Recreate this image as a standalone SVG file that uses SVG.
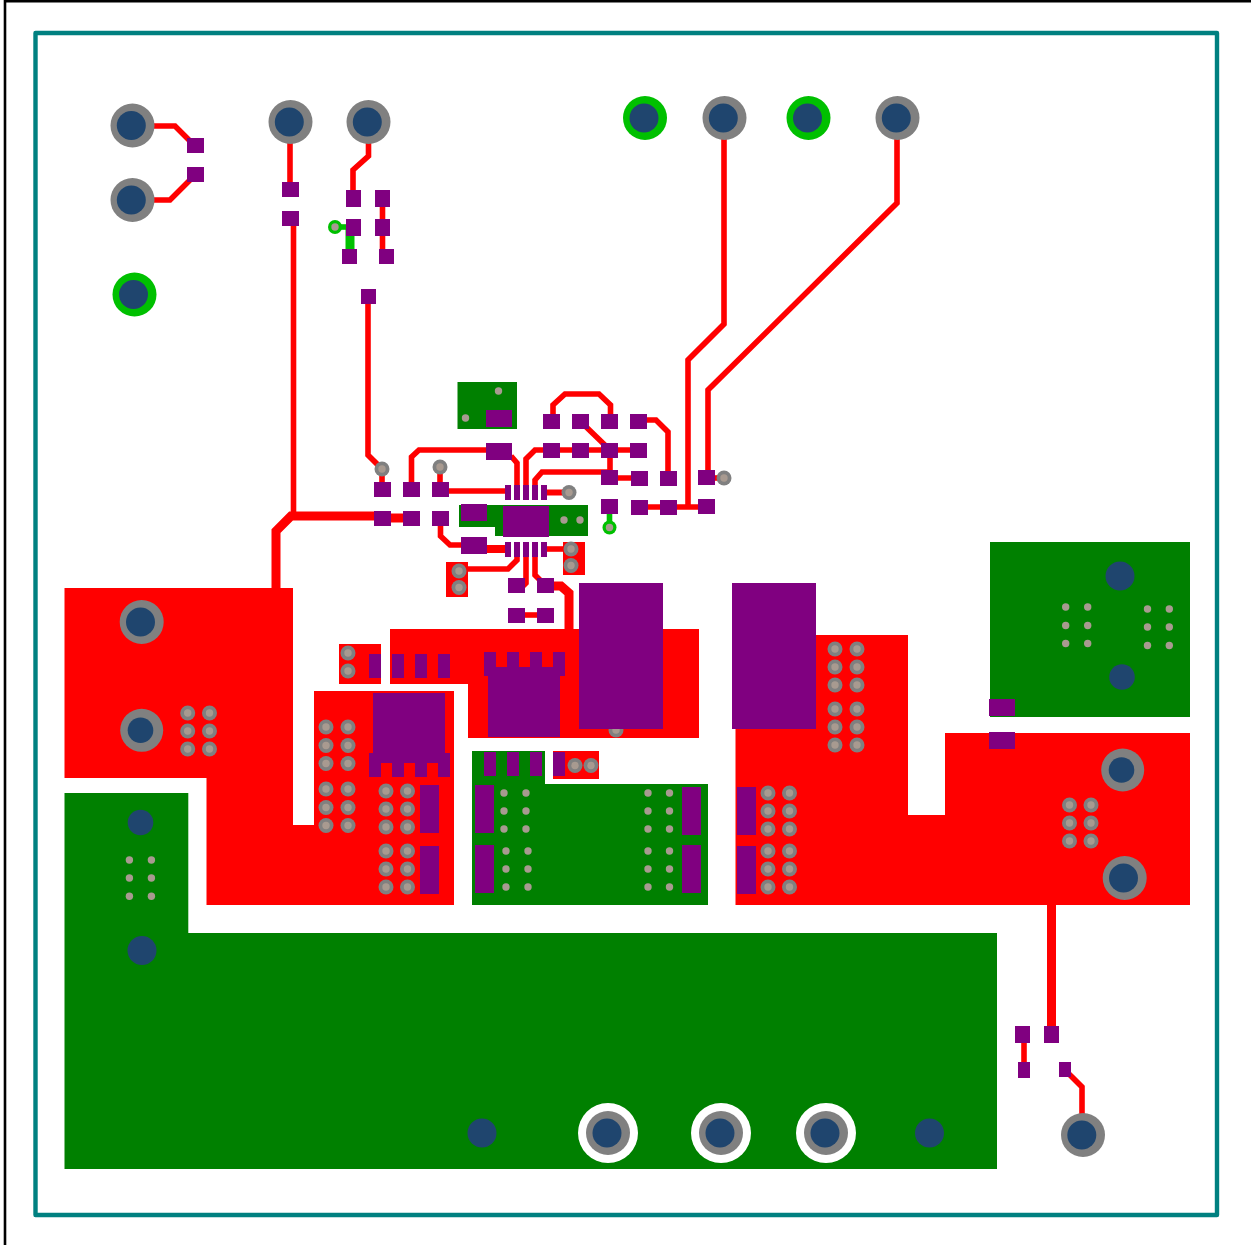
<svg xmlns="http://www.w3.org/2000/svg" width="1251" height="1245" viewBox="0 0 1251 1245">
<style>
.g{fill:#008000}.r{fill:#ff0000}.p{fill:#800080}
.t{fill:none;stroke:#ff0000;stroke-width:5.6}.t9{fill:none;stroke:#ff0000;stroke-width:9}.tg{fill:none;stroke:#00c000;stroke-width:5.6}
.rv{fill:#808080}.h{fill:#a89a90}.b{fill:#1f456e}
</style>
<defs>
<g id="via"><circle r="7.5" class="rv"/><circle r="3.7" class="h"/></g>
<g id="gv"><circle r="3.7" class="h"/></g>
<g id="mh"><circle r="22" class="rv"/><circle cx="-1.200" r="14.500" class="b"/></g>
<g id="mhs"><circle r="21.500" class="rv"/><circle cx="-1.200" r="12.800" class="b"/></g>
<g id="mhg"><circle r="22" fill="#00c000"/><circle cx="-1" r="14.500" class="b"/></g>
<g id="mhw"><circle r="30" fill="#fff"/><circle r="22" class="rv"/><circle cx="-1" r="14.500" class="b"/></g>
<rect id="s" width="17" height="15" class="p"/>
<rect id="s2" width="15" height="17" class="p"/>
<rect id="n" width="12" height="24" class="p"/>
<rect id="w" width="26" height="17" class="p"/>
<rect id="tall" width="19" height="48" class="p"/>
<rect id="pin" width="6" height="15" class="p"/>
</defs>
<rect width="1251" height="1245" fill="#fff"/>
<path d="M5 1245V1.300H1251" fill="none" stroke="#000" stroke-width="2.600"/>
<rect x="35.500" y="33" width="1181.500" height="1182" fill="none" stroke="#008080" stroke-width="4.400" stroke-linejoin="round"/>

<g id="pours-bottom">
<path class="g" d="M64.500 793H188.300V933H997V1169H64.500Z"/>
<rect class="g" x="990" y="542" width="200" height="175"/>
<path class="g" d="M472 751H545V784H708V905H472Z"/>
<rect class="g" x="457.500" y="382" width="59.500" height="47"/>
<path class="g" d="M459 505H588V536H495V527H459Z"/>
</g>
<g id="pours-top">
<path class="r" d="M64.500 588H293V825H314V691H454V905H206.500V778H64.500Z"/>
<path class="r" d="M390 629H699V738H468V684H390Z"/>
<rect class="r" x="339" y="644" width="42" height="40"/>
<rect class="r" x="553" y="751" width="46" height="28"/>
<path class="r" d="M735.500 635H908V815H945V733H1190V905H735.500Z"/>
<rect class="r" x="446" y="562" width="22" height="35"/>
<rect class="r" x="563" y="542" width="22" height="33"/>
</g>

<g id="connectors">
<path class="t" d="M132 126H175L195 146"/>
<path class="t" d="M132 200H170L195 175"/>
<path class="t" d="M290 122V190"/>
<path class="t" d="M293.500 218V516"/>
<path class="t9" d="M276 588V531L291 516H382"/>
<path class="t9" d="M382 518H411"/>
<path class="t" d="M368.500 122V156L353 170V200"/>
<path class="t" d="M382.500 200V256"/>
<path class="tg" d="M335 227H350"/>
<path class="tg" style="stroke-width:9" d="M350 227V256"/>
<path class="t" d="M368 296V455L382 469V490"/>
<path class="t" d="M411.500 490V457L419 450H500M511 456L517 463V490"/>
<path class="t" d="M440 467V491H510"/>
<path class="t" d="M526 490V459L535 450H640"/>
<path class="t" d="M535 490V480L542 472H610"/>
<path class="t" d="M610 450V478H640"/>
<path class="t" d="M580 421L610 450"/>
<path class="t" d="M553 421V405L565 394H599L610.500 405V421"/>
<path class="t" d="M640 420H656L668 432V478"/>
<path class="t" d="M724 118V324L688 360V507"/>
<path class="t" d="M897 118V203L708 390V478"/>
<path class="t" d="M640 507H707"/>
<path class="t" d="M707 478H724"/>
<path class="t" style="stroke-width:6" d="M547 492.500H569"/>
<path class="tg" d="M609.500 514V527"/>
<path class="t" d="M440.500 526V536L450 545H461"/>
<path class="t9" style="stroke-width:8" d="M487 549H505"/>
<path class="t" d="M547 549H563"/>
<path class="t" d="M517 557V560L508 569H459"/>
<path class="t" d="M526 557V583L521 588"/>
<path class="t" d="M535 557V575L545 585"/>
<path class="t9" d="M545 586H561L569 593V630"/>
<path class="t" d="M516 615H545"/>
<path class="t9" d="M1051.500 905V1035"/>
<path class="t" d="M1024 1035V1070"/>
<path class="t" d="M1065 1070L1082 1087V1134"/>
</g>

<g id="vias">
<use href="#via" x="382" y="469"/><use href="#via" x="440" y="467"/><use href="#via" x="569" y="492.500"/><use href="#via" x="724" y="478"/>
<use href="#via" x="571" y="549"/><use href="#via" x="571" y="565.500"/><use href="#via" x="459" y="571"/><use href="#via" x="459" y="587.500"/>
<use href="#via" x="348" y="653"/><use href="#via" x="348" y="671"/><use href="#via" x="616" y="730"/>
<use href="#via" x="575" y="765.500"/><use href="#via" x="591" y="765.500"/>
<use href="#via" x="187.700" y="713"/><use href="#via" x="209.500" y="713"/><use href="#via" x="187.700" y="731"/><use href="#via" x="209.500" y="731"/><use href="#via" x="187.700" y="749"/><use href="#via" x="209.500" y="749"/>
<use href="#via" x="326" y="727"/><use href="#via" x="348" y="727"/><use href="#via" x="326" y="745.500"/><use href="#via" x="348" y="745.500"/><use href="#via" x="326" y="763.500"/><use href="#via" x="348" y="763.500"/>
<use href="#via" x="326" y="789"/><use href="#via" x="348" y="789"/><use href="#via" x="326" y="807.500"/><use href="#via" x="348" y="807.500"/><use href="#via" x="326" y="825.500"/><use href="#via" x="348" y="825.500"/>
<use href="#via" x="386" y="791"/><use href="#via" x="407.500" y="791"/><use href="#via" x="386" y="809"/><use href="#via" x="407.500" y="809"/><use href="#via" x="386" y="827"/><use href="#via" x="407.500" y="827"/>
<use href="#via" x="386" y="851"/><use href="#via" x="407.500" y="851"/><use href="#via" x="386" y="869"/><use href="#via" x="407.500" y="869"/><use href="#via" x="386" y="887"/><use href="#via" x="407.500" y="887"/>
<use href="#via" x="768" y="793"/><use href="#via" x="789.500" y="793"/><use href="#via" x="768" y="811"/><use href="#via" x="789.500" y="811"/><use href="#via" x="768" y="829"/><use href="#via" x="789.500" y="829"/>
<use href="#via" x="768" y="851"/><use href="#via" x="789.500" y="851"/><use href="#via" x="768" y="869"/><use href="#via" x="789.500" y="869"/><use href="#via" x="768" y="887"/><use href="#via" x="789.500" y="887"/>
<use href="#via" x="835" y="649"/><use href="#via" x="857" y="649"/><use href="#via" x="835" y="667"/><use href="#via" x="857" y="667"/><use href="#via" x="835" y="685"/><use href="#via" x="857" y="685"/>
<use href="#via" x="835" y="709"/><use href="#via" x="857" y="709"/><use href="#via" x="835" y="727"/><use href="#via" x="857" y="727"/><use href="#via" x="835" y="745"/><use href="#via" x="857" y="745"/>
<use href="#via" x="1069.500" y="805"/><use href="#via" x="1091" y="805"/><use href="#via" x="1069.500" y="823"/><use href="#via" x="1091" y="823"/><use href="#via" x="1069.500" y="841"/><use href="#via" x="1091" y="841"/>
<circle cx="335" cy="227" r="7" fill="#00c000"/><use href="#gv" x="335" y="227"/>
<circle cx="609.500" cy="527.500" r="7" fill="#00c000"/><use href="#gv" x="609.500" y="527.500"/>
<use href="#gv" x="498.500" y="391"/><use href="#gv" x="465.500" y="418"/><use href="#gv" x="564" y="520"/><use href="#gv" x="580" y="520"/>
<use href="#gv" x="504" y="793"/><use href="#gv" x="526" y="793"/><use href="#gv" x="504" y="811"/><use href="#gv" x="526" y="811"/><use href="#gv" x="504" y="829"/><use href="#gv" x="526" y="829"/>
<use href="#gv" x="506" y="851"/><use href="#gv" x="528" y="851"/><use href="#gv" x="506" y="869"/><use href="#gv" x="528" y="869"/><use href="#gv" x="506" y="887"/><use href="#gv" x="528" y="887"/>
<use href="#gv" x="648" y="793"/><use href="#gv" x="669.500" y="793"/><use href="#gv" x="648" y="811"/><use href="#gv" x="669.500" y="811"/><use href="#gv" x="648" y="829"/><use href="#gv" x="669.500" y="829"/>
<use href="#gv" x="648" y="851"/><use href="#gv" x="669.500" y="851"/><use href="#gv" x="648" y="869"/><use href="#gv" x="669.500" y="869"/><use href="#gv" x="648" y="887"/><use href="#gv" x="669.500" y="887"/>
<use href="#gv" x="1065.700" y="607"/><use href="#gv" x="1087.700" y="607"/><use href="#gv" x="1065.700" y="625.500"/><use href="#gv" x="1087.700" y="625.500"/><use href="#gv" x="1065.700" y="643.500"/><use href="#gv" x="1087.700" y="643.500"/>
<use href="#gv" x="1147.500" y="609"/><use href="#gv" x="1169.300" y="609"/><use href="#gv" x="1147.500" y="627"/><use href="#gv" x="1169.300" y="627"/><use href="#gv" x="1147.500" y="645.500"/><use href="#gv" x="1169.300" y="645.500"/>
<use href="#gv" x="129.400" y="860"/><use href="#gv" x="151.400" y="860"/><use href="#gv" x="129.400" y="878"/><use href="#gv" x="151.400" y="878"/><use href="#gv" x="129.400" y="896.300"/><use href="#gv" x="151.400" y="896.300"/>
</g>

<g id="mounting-holes">
<use href="#mh" x="132.500" y="125.500"/><use href="#mh" x="132.500" y="200"/><use href="#mhg" x="134.500" y="294.500"/>
<use href="#mh" x="290.500" y="122"/><use href="#mh" x="368.500" y="122"/>
<use href="#mhg" x="645" y="118"/><use href="#mh" x="724.500" y="118"/><use href="#mhg" x="808.500" y="118"/><use href="#mh" x="897.500" y="118"/>
<use href="#mh" x="141.700" y="622"/><use href="#mhs" x="141.700" y="730.300"/>
<use href="#mhs" x="1122.700" y="770"/><use href="#mh" x="1124.700" y="878"/>
<use href="#mh" x="1083" y="1135"/>
<use href="#mhw" x="608" y="1133"/><use href="#mhw" x="721" y="1133"/><use href="#mhw" x="826" y="1133"/>
<circle cx="1120" cy="576" r="14.500" class="b"/><circle cx="1122" cy="677" r="12.800" class="b"/>
<circle cx="140.500" cy="822.500" r="12.800" class="b"/><circle cx="142" cy="950.500" r="14.500" class="b"/>
<circle cx="482" cy="1133" r="14.500" class="b"/><circle cx="929.500" cy="1133" r="14.500" class="b"/>
</g>

<g id="pads">
<use href="#s" x="187" y="138"/><use href="#s" x="187" y="167"/>
<use href="#s" x="282" y="182"/><use href="#s" x="282" y="211"/>
<use href="#s2" x="346" y="190"/><use href="#s2" x="375" y="190"/><use href="#s2" x="346" y="219"/><use href="#s2" x="375" y="219"/>
<rect class="p" x="342" y="249" width="15" height="15"/><rect class="p" x="379" y="249" width="15" height="15"/><rect class="p" x="361" y="289" width="15" height="15"/>
<use href="#s" x="374" y="482"/><use href="#s" x="403" y="482"/><use href="#s" x="432" y="482"/>
<use href="#s" x="374" y="511"/><use href="#s" x="403" y="511"/><use href="#s" x="432" y="511"/>
<use href="#s" x="543" y="414"/><use href="#s" x="572" y="414"/><use href="#s" x="601" y="414"/><use href="#s" x="630" y="414"/>
<use href="#s" x="543" y="443"/><use href="#s" x="572" y="443"/><use href="#s" x="601" y="443"/><use href="#s" x="630" y="443"/>
<use href="#s" x="601" y="470"/><use href="#s" x="631" y="471"/><use href="#s" x="660" y="471"/><use href="#s" x="698" y="470"/>
<use href="#s" x="601" y="499"/><use href="#s" x="631" y="500"/><use href="#s" x="660" y="500"/><use href="#s" x="698" y="499"/>
<use href="#s" x="508" y="578"/><use href="#s" x="537" y="578"/><use href="#s" x="508" y="608"/><use href="#s" x="537" y="608"/>
<use href="#w" x="486" y="410"/><use href="#w" x="486" y="443"/><use href="#w" x="461" y="504"/><use href="#w" x="461" y="537"/>
<use href="#w" x="989" y="699"/><use href="#w" x="989" y="732"/>
<rect class="p" x="503" y="506" width="46" height="31"/>
<use href="#pin" x="505" y="485"/><use href="#pin" x="514" y="485"/><use href="#pin" x="523" y="485"/><use href="#pin" x="532" y="485"/><use href="#pin" x="541" y="485"/>
<use href="#pin" x="505" y="542"/><use href="#pin" x="514" y="542"/><use href="#pin" x="523" y="542"/><use href="#pin" x="532" y="542"/><use href="#pin" x="541" y="542"/>
<rect class="p" x="579" y="583" width="84" height="146"/><rect class="p" x="732" y="583" width="84" height="146"/>
<rect class="p" x="488" y="667" width="72" height="70"/>
<use href="#n" x="484" y="652"/><use href="#n" x="507" y="652"/><use href="#n" x="530" y="652"/><use href="#n" x="553" y="652"/>
<rect class="p" x="373" y="693" width="72" height="70"/>
<use href="#n" x="369" y="753"/><use href="#n" x="392" y="753"/><use href="#n" x="415" y="753"/><use href="#n" x="438" y="753"/>
<use href="#n" x="369" y="654"/><use href="#n" x="392" y="654"/><use href="#n" x="415" y="654"/><use href="#n" x="438" y="654"/>
<use href="#n" x="484" y="752"/><use href="#n" x="507" y="752"/><use href="#n" x="530" y="752"/><use href="#n" x="553" y="752"/>
<use href="#tall" x="420" y="785"/><use href="#tall" x="420" y="846"/>
<use href="#tall" x="475" y="785"/><use href="#tall" x="475" y="845"/>
<use href="#tall" x="682" y="787"/><use href="#tall" x="682" y="845"/>
<use href="#tall" x="737" y="787"/><use href="#tall" x="737" y="846"/>
<use href="#s2" x="1015" y="1026"/><use href="#s2" x="1044" y="1026"/>
<rect class="p" x="1018" y="1062" width="12" height="16"/><rect class="p" x="1059" y="1062" width="12" height="15"/>
</g>
</svg>
